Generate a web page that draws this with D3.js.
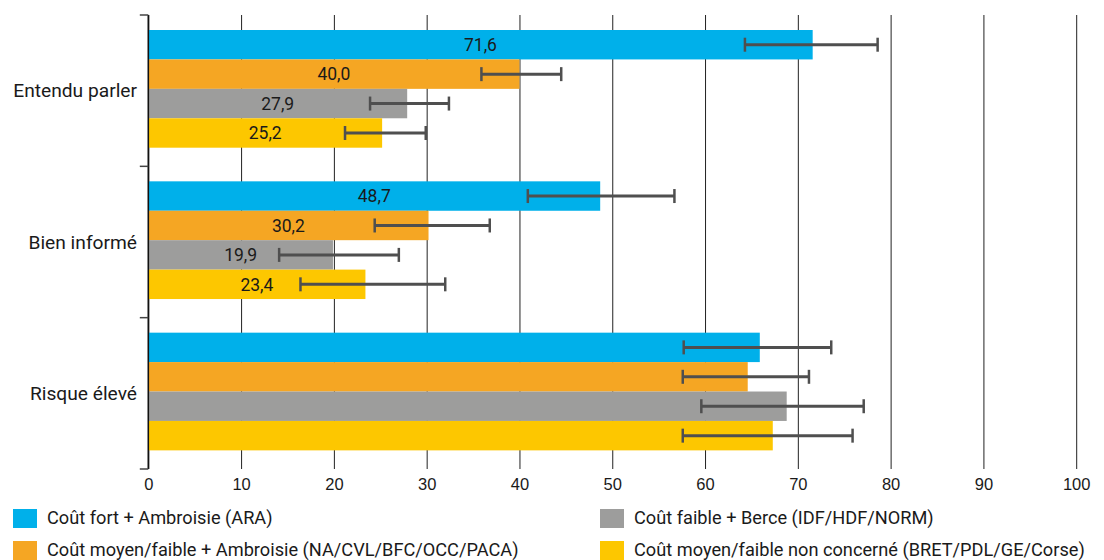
<!DOCTYPE html>
<html lang="fr">
<head>
<meta charset="utf-8">
<script src="https://cdn.jsdelivr.net/npm/d3@7"></script>
<style>
  html, body { margin: 0; padding: 0; background: #fff; }
  svg { display: block; font-family: Roboto, "Noto Sans", sans-serif; }
</style>
</head>
<body>
<svg id="chart" width="1104" height="560"></svg>
<script>
// Question categories (one group of bars per row)
const categories = ["Entendu parler", "Bien informé", "Risque élevé"];

// Regional groups shown in each category
const seriesNames = [
  "Coût fort + Ambroisie (ARA)",
  "Coût moyen/faible + Ambroisie (NA/CVL/BFC/OCC/PACA)",
  "Coût faible + Berce (IDF/HDF/NORM)",
  "Coût moyen/faible non concerné (BRET/PDL/GE/Corse)"
];
const seriesColors = ["#00b0ea", "#f5a623", "#9d9d9c", "#fdc700"];

// Percentages per series, in category order
const araValues   = [71.6, 48.7, 65.9];
const ambValues   = [40.0, 30.2, 64.6];
const berceValues = [27.9, 19.9, 68.8];
const nonValues   = [25.2, 23.4, 67.3];

// Confidence intervals [low, high] per series, in category order
const araCI   = [[64.3, 78.6], [40.9, 56.7], [57.7, 73.6]];
const ambCI   = [[35.9, 44.5], [24.4, 36.8], [57.6, 71.2]];
const berceCI = [[23.9, 32.4], [14.1, 27.0], [59.6, 77.1]];
const nonCI   = [[21.2, 29.9], [16.4, 32.0], [57.6, 75.9]];

// Which categories carry printed value labels
const showLabel = [true, true, false];

// X axis ticks
const xTicks = [0, 10, 20, 30, 40, 50, 60, 70, 80, 90, 100];

const valuesBySeries = [araValues, ambValues, berceValues, nonValues];
const ciBySeries = [araCI, ambCI, berceCI, nonCI];

const rows = [];
categories.forEach((cat, ci) => {
  seriesNames.forEach((name, si) => {
    rows.push({
      cat, si, name,
      value: valuesBySeries[si][ci],
      lo: ciBySeries[si][ci][0],
      hi: ciBySeries[si][ci][1],
      label: showLabel[ci]
    });
  });
});

const svg = d3.select("#chart");
const plotTop = 15, plotBottom = 469, plotLeft = 148.3, plotRight = 1076.2;

const x = d3.scaleLinear().domain([0, 100]).range([plotLeft, plotRight]);
const y = d3.scaleBand().domain(categories).range([plotTop, plotBottom]).padding(0);
const ySub = d3.scaleBand().domain(d3.range(seriesNames.length))
  .range([15, 132.7]).padding(0);

const fmt = v => d3.format(".1f")(v).replace(".", ",");

// Vertical gridlines and x tick labels
const xAxis = d3.axisBottom(x)
  .tickValues(xTicks)
  .tickFormat(d3.format("d"))
  .tickSizeInner(-(plotBottom - plotTop))
  .tickSizeOuter(0)
  .tickPadding(9);

const gx = svg.append("g")
  .attr("transform", `translate(0,${plotBottom})`)
  .call(xAxis);
gx.select(".domain").remove();
gx.selectAll(".tick line").attr("stroke", "#222").attr("stroke-width", 1);
gx.selectAll(".tick text")
  .attr("fill", "#1a1a1a")
  .style("font-size", "16.5px")
  .attr("dy", "0.71em");

// Bars
const barG = svg.append("g");
barG.selectAll("rect")
  .data(rows)
  .join("rect")
  .attr("x", x(0))
  .attr("y", d => y(d.cat) + ySub(d.si))
  .attr("width", d => x(d.value) - x(0))
  .attr("height", ySub.bandwidth())
  .attr("fill", d => seriesColors[d.si]);

// Value labels inside bars
barG.selectAll("text")
  .data(rows.filter(d => d.label))
  .join("text")
  .attr("x", d => (x(0) + x(d.value)) / 2)
  .attr("y", d => y(d.cat) + ySub(d.si) + ySub.bandwidth() / 2)
  .attr("dy", "0.36em")
  .attr("text-anchor", "middle")
  .attr("fill", "#1a1a1a")
  .style("font-size", "17.5px")
  .text(d => fmt(d.value));

// Error bars
const errG = svg.append("g")
  .attr("stroke", "#4f4f4f")
  .attr("stroke-width", 3);
const capH = 7;
rows.forEach(d => {
  const cy = y(d.cat) + ySub(d.si) + ySub.bandwidth() / 2;
  errG.append("line")
    .attr("x1", x(d.lo)).attr("x2", x(d.hi))
    .attr("y1", cy).attr("y2", cy);
  [d.lo, d.hi].forEach(v => {
    errG.append("line")
      .attr("x1", x(v)).attr("x2", x(v))
      .attr("y1", cy - capH).attr("y2", cy + capH)
      .attr("stroke-width", 2.5);
  });
});

// Y axis: vertical line with ticks at group boundaries
const yAxisG = svg.append("g");
yAxisG.append("line")
  .attr("x1", plotLeft).attr("x2", plotLeft)
  .attr("y1", plotTop).attr("y2", plotBottom)
  .attr("stroke", "#111").attr("stroke-width", 1.6);
const bounds = categories.map(c => y(c)).concat([plotBottom]);
yAxisG.selectAll("line.tick")
  .data(bounds)
  .join("line")
  .attr("class", "tick")
  .attr("x1", plotLeft - 8.5).attr("x2", plotLeft)
  .attr("y1", d => d).attr("y2", d => d)
  .attr("stroke", "#444").attr("stroke-width", 1.5);
yAxisG.selectAll("text")
  .data(categories)
  .join("text")
  .attr("x", 137)
  .attr("y", d => y(d) + y.bandwidth() / 2)
  .attr("dy", "0.35em")
  .attr("text-anchor", "end")
  .attr("fill", "#1a1a1a")
  .style("font-size", "19.2px")
  .text(d => d);

// Legend, two columns
const legendPos = [[13, 509], [13, 541], [600, 509], [600, 541]];
const legG = svg.append("g");
const items = legG.selectAll("g")
  .data(seriesNames)
  .join("g")
  .attr("transform", (d, i) => `translate(${legendPos[i][0]},${legendPos[i][1]})`);
items.append("rect")
  .attr("width", 24).attr("height", 19)
  .attr("fill", (d, i) => seriesColors[i]);
items.append("text")
  .attr("x", 34)
  .attr("y", 8)
  .attr("dy", "0.36em")
  .attr("fill", "#1a1a1a")
  .style("font-size", "18.2px")
  .text(d => d);
</script>
</body>
</html>
